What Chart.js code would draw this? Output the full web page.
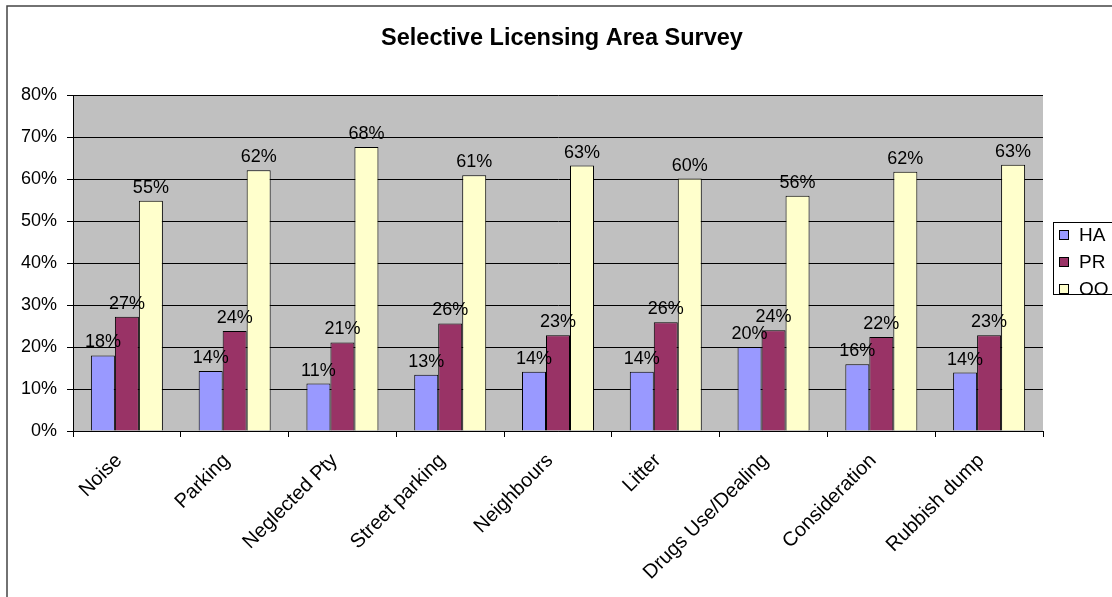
<!DOCTYPE html>
<html>
<head>
<meta charset="utf-8">
<title>Selective Licensing Area Survey</title>
<script src="https://cdn.jsdelivr.net/npm/chart.js@4.4.1/dist/chart.umd.min.js"></script>
<style>
  html, body { margin: 0; padding: 0; background: #fff; }
  canvas { display: block; }
</style>
</head>
<body>
<canvas id="survey-chart" width="1112" height="597"></canvas>
<script>
// Survey answers per issue, percent of respondents by tenure
const categories = ['Noise', 'Parking', 'Neglected Pty', 'Street parking', 'Neighbours',
    'Litter', 'Drugs Use/Dealing', 'Consideration', 'Rubbish dump'];
const haValues = [18.0, 14.3, 11.3, 13.4, 14.1, 14.1, 20.0, 15.9, 13.9];
const prValues = [27.2, 23.8, 21.1, 25.6, 22.8, 25.9, 24.0, 22.4, 22.8];
const ooValues = [54.8, 62.1, 67.6, 60.9, 63.2, 60.1, 56.0, 61.7, 63.4];
const seriesNames = ['HA', 'PR', 'OO'];
const yTickLabels = ['0%', '10%', '20%', '30%', '40%', '50%', '60%', '70%', '80%'];
const chartTitle = 'Selective Licensing Area Survey';

const FONT = '"Liberation Sans", Arial, sans-serif';
Chart.defaults.font.family = FONT;
Chart.defaults.color = '#000';

// white page + grey plot area, like the old Excel default
const plotBackground = {
    id: 'plotBackground',
    beforeDraw(chart) {
        const { ctx, chartArea: a } = chart;
        ctx.save();
        ctx.fillStyle = '#fff';
        ctx.fillRect(0, 0, chart.width, chart.height);
        ctx.fillStyle = '#c0c0c0';
        ctx.fillRect(a.left, a.top, a.right - a.left, a.bottom - a.top);
        ctx.restore();
    },
    afterDraw(chart) {
        const ctx = chart.ctx;
        ctx.save();
        // outer chart frame (runs off the right and bottom edge)
        ctx.strokeStyle = '#444';
        ctx.lineWidth = 1.5;
        ctx.beginPath();
        ctx.moveTo(7, chart.height + 2);
        ctx.lineTo(7, 6);
        ctx.lineTo(chart.width + 2, 6);
        ctx.stroke();
        // title, centred on the whole frame rather than the plot
        ctx.fillStyle = '#000';
        ctx.font = 'bold 23.5px ' + FONT;
        ctx.textAlign = 'center';
        ctx.textBaseline = 'alphabetic';
        ctx.fillText(chartTitle, 562, 45);
        ctx.restore();
    }
};

// percentage printed above each bar
const barValues = {
    id: 'barValues',
    afterDatasetsDraw(chart) {
        const ctx = chart.ctx;
        ctx.save();
        ctx.font = '18px ' + FONT;
        ctx.fillStyle = '#000';
        ctx.textAlign = 'center';
        ctx.textBaseline = 'alphabetic';
        chart.data.datasets.forEach((ds, i) => {
            chart.getDatasetMeta(i).data.forEach((bar, j) => {
                ctx.fillText(Math.round(ds.data[j]) + '%', bar.x, bar.y - 8);
            });
        });
        ctx.restore();
    }
};

// boxed legend to the right of the plot
const sideLegend = {
    id: 'sideLegend',
    afterDraw(chart) {
        const ctx = chart.ctx;
        const left = 1053, top = 222, rowH = 27;
        ctx.save();
        ctx.fillStyle = '#fff';
        ctx.fillRect(left, top, 120, 72);
        ctx.strokeStyle = '#000';
        ctx.lineWidth = 1;
        ctx.strokeRect(left + 0.5, top + 0.5, 120, 72);
        ctx.font = '19px ' + FONT;
        ctx.textBaseline = 'middle';
        chart.data.datasets.forEach((ds, i) => {
            const cy = top + 13 + i * rowH;
            ctx.fillStyle = ds.backgroundColor;
            ctx.fillRect(left + 6, cy - 5, 10, 10);
            ctx.strokeRect(left + 6.5, cy - 4.5, 9, 9);
            ctx.fillStyle = '#000';
            ctx.fillText(ds.label, left + 26, cy + 1);
        });
        ctx.restore();
    }
};

const ctx = document.getElementById('survey-chart');

new Chart(ctx, {
    type: 'bar',
    data: {
        labels: categories,
        datasets: [
            { label: seriesNames[0], data: haValues, backgroundColor: '#9999ff' },
            { label: seriesNames[1], data: prValues, backgroundColor: '#993366' },
            { label: seriesNames[2], data: ooValues, backgroundColor: '#ffffcc' },
        ].map(ds => ({
            ...ds,
            borderColor: '#000',
            borderWidth: 1,
            categoryPercentage: 0.668,
            barPercentage: 1,
        })),
    },
    options: {
        responsive: false,
        animation: false,
        devicePixelRatio: 1,
        layout: { padding: { left: 0, top: 95, right: 69, bottom: 0 } },
        scales: {
            x: {
                grid: {
                    offset: true,
                    drawOnChartArea: false,
                    drawTicks: true,
                    tickLength: 6,
                    color: '#000',
                },
                border: { color: '#000' },
                ticks: {
                    autoSkip: false,
                    maxRotation: 45,
                    minRotation: 45,
                    padding: 12,
                    labelOffset: -8,
                    font: { size: 20 },
                    color: '#000',
                },
                afterFit: (scale) => { scale.height = 166; },
            },
            y: {
                min: 0,
                max: 80,
                grid: { color: '#000', tickLength: 6 },
                border: { color: '#000' },
                ticks: {
                    stepSize: 10,
                    padding: 10,
                    font: { size: 18 },
                    color: '#000',
                    callback: (v) => yTickLabels[Math.round(v / 10)],
                },
                afterFit: (scale) => { scale.width = 73; },
            },
        },
        plugins: {
            legend: { display: false },
            tooltip: { enabled: false },
            title: { display: false },
        },
    },
    plugins: [plotBackground, barValues, sideLegend],
});
</script>
</body>
</html>
